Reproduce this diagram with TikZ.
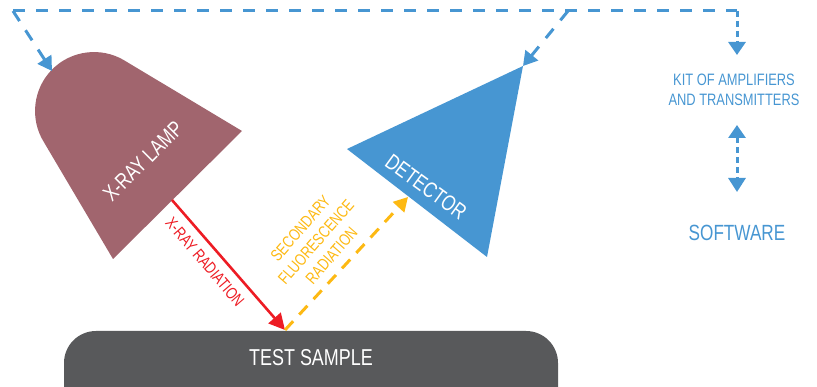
\documentclass[tikz,border=0pt]{standalone}
\usepackage{fontspec}
\setmainfont{Liberation Sans}[FakeStretch=0.78]
\usetikzlibrary{arrows.meta}

\definecolor{lampcol}{RGB}{161,101,110}
\definecolor{bluecol}{RGB}{71,150,210}
\definecolor{ambercol}{RGB}{253,185,19}
\definecolor{redcol}{RGB}{237,28,36}
\definecolor{samplecol}{RGB}{88,89,91}

\tikzset{
  signal/.style={draw=bluecol, line width=3pt, dash pattern=on 12pt off 11pt,
    -{Triangle[length=14pt,width=16pt]}},
  shortsignal/.style={draw=bluecol, line width=3pt, dash pattern=on 6pt off 4pt},
  bluetip/.style={-{Triangle[length=13pt,width=17pt]}},
  xray/.style={draw=redcol, line width=2.6pt, -{Triangle[length=16pt,width=16pt]}},
  fluor/.style={draw=ambercol, line width=3pt, dash pattern=on 12pt off 9pt,
    -{Triangle[length=14pt,width=15pt]}},
  whitelabel/.style={text=white, inner sep=0pt},
  tag/.style={inner sep=0pt, align=center}
}

\begin{document}
\begin{tikzpicture}[x=1pt, y=-1pt]
  \useasboundingbox (0,0) rectangle (817,387);
  \clip (0,0) rectangle (817,387);

  % X-ray lamp: bell shape, rounded at the upper left
  \fill[lampcol] (242,131) -- (113,259) -- (43.97,142.27)
    .. controls (29.61,119.29) and (32.83,89.24) .. (51.74,69.83)
    .. controls (70.65,50.42) and (100.59,46.42) .. (123.94,60.17) -- cycle;
  \node[whitelabel, rotate=45, font=\fontsize{22}{22}\selectfont] (lamp) at (143,161) {X-RAY LAMP};

  % Detector triangle
  \fill[bluecol] (347,149) -- (523,66) -- (487,257) -- cycle;
  \node[whitelabel, rotate=-36, font=\fontsize{22}{22}\selectfont] (detector) at (426,187) {DETECTOR};

  % Test sample bar
  \fill[samplecol, rounded corners=32pt] (64,331) rectangle (558,440);
  \node[whitelabel, font=\fontsize{23}{23}\selectfont] (sample) at (311,358) {TEST SAMPLE};

  % Right column texts
  \node[tag, text=bluecol, font=\fontsize{16.5}{20}\selectfont] (kit) at (734,90)
    {KIT OF AMPLIFIERS\\AND TRANSMITTERS};
  \node[tag, text=bluecol, font=\fontsize{22}{22}\selectfont] (software) at (737,233) {SOFTWARE};

  % Anchor points of the connectors
  \coordinate (busLeft) at (13,11);
  \coordinate (busRight) at (737,11);
  \coordinate (busDet) at (568,11);
  \coordinate (lampIn) at (52,71);
  \coordinate (detIn) at (523,66);
  \coordinate (kitIn) at (737,55);
  \coordinate (kitOut) at (737,125);
  \coordinate (swIn) at (737,192);
  \coordinate (lampOut) at (172,200);
  \coordinate (hitPoint) at (285,330);
  \coordinate (detSense) at (408,197);

  % Control / signal bus
  \draw[draw=bluecol, line width=3pt, dash pattern=on 12pt off 11pt] (busLeft) -- (busRight);
  \draw[shortsignal, bluetip] (busRight) -- (kitIn);
  \draw[signal] (busLeft) -- (lampIn);
  \draw[signal] (busDet) -- (detIn);
  \draw[shortsignal, {Triangle[length=13pt,width=17pt]}-{Triangle[length=14pt,width=17pt]}] (kitOut) -- (swIn);

  % Radiation paths
  \draw[xray] (lampOut) -- (hitPoint);
  \draw[fluor] (hitPoint) -- (detSense);

  \node[tag, text=redcol, rotate=-49.5, font=\fontsize{16.5}{16.5}\selectfont] (xraylabel) at (205,262) {X-RAY RADIATION};
  \node[tag, text=ambercol, rotate=49, font=\fontsize{16.5}{20.5}\selectfont] (fluorlabel) at (316,242)
    {SECONDARY\\FLUORESCENCE\\RADIATION};
\end{tikzpicture}
\end{document}
